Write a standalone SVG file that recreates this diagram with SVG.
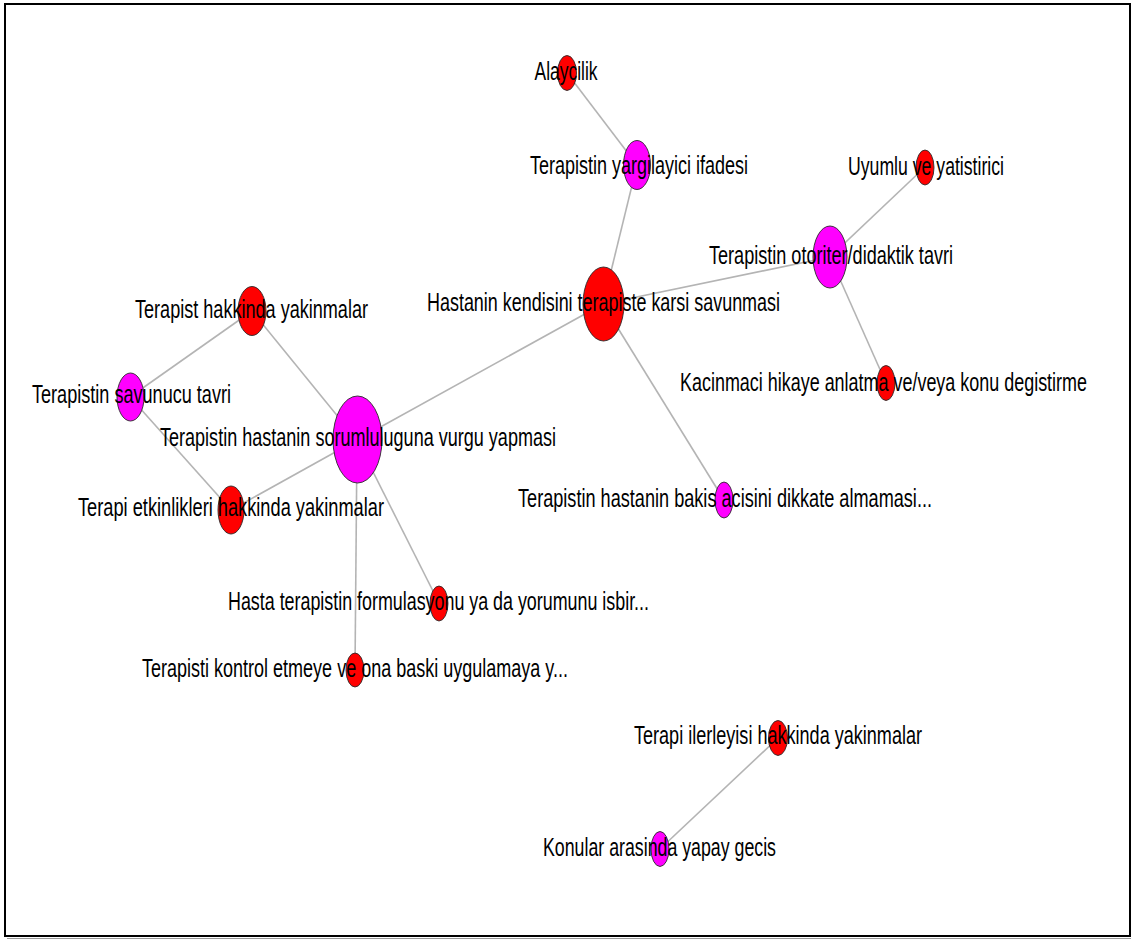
<svg xmlns="http://www.w3.org/2000/svg" width="1131" height="940" viewBox="0 0 1131 940">
  <style>
    .edge { stroke: #b4b4b4; stroke-width: 1.6; fill: none; }
    .red { fill: #ff0000; stroke: #2a2a2a; stroke-width: 0.9; }
    .mag { fill: #ff00ff; stroke: #2a2a2a; stroke-width: 0.9; }
    text { font-family: "Liberation Sans", Arial, sans-serif; font-size: 26px; fill: #000; text-anchor: middle; }
  </style>
  <rect x="0" y="0" width="1131" height="940" fill="#fff"/>
  <rect x="5" y="4" width="1125" height="932" fill="none" stroke="#000" stroke-width="2"/>
  <line x1="7" y1="938.5" x2="1131" y2="938.5" stroke="#999" stroke-width="1"/>

  <g id="connectors">
    <line class="edge" x1="567" y1="73" x2="637" y2="165"/>
    <line class="edge" x1="637" y1="165" x2="603" y2="304"/>
    <line class="edge" x1="603" y1="304" x2="830" y2="257"/>
    <line class="edge" x1="830" y1="257" x2="925" y2="167"/>
    <line class="edge" x1="830" y1="257" x2="886" y2="383"/>
    <line class="edge" x1="603" y1="304" x2="724" y2="500"/>
    <line class="edge" x1="603" y1="304" x2="357" y2="440"/>
    <line class="edge" x1="252" y1="311" x2="130" y2="397"/>
    <line class="edge" x1="252" y1="311" x2="357" y2="440"/>
    <line class="edge" x1="130" y1="397" x2="231" y2="510"/>
    <line class="edge" x1="231" y1="510" x2="357" y2="440"/>
    <line class="edge" x1="357" y1="440" x2="439" y2="603"/>
    <line class="edge" x1="357" y1="440" x2="355" y2="670"/>
    <line class="edge" x1="778" y1="738" x2="660" y2="849"/>
  </g>

  <g id="n-alaycilik">
    <ellipse class="red" cx="567" cy="73" rx="9.5" ry="17.5"/>
    <text x="566" y="80" textLength="63" lengthAdjust="spacingAndGlyphs">Alaycilik</text>
  </g>
  <g id="n-yargilayici">
    <ellipse class="mag" cx="637" cy="165" rx="13.5" ry="24.5"/>
    <text x="639" y="174" textLength="218" lengthAdjust="spacingAndGlyphs">Terapistin yargilayici ifadesi</text>
  </g>
  <g id="n-savunmasi">
    <ellipse class="red" cx="603.5" cy="304" rx="20.5" ry="37"/>
    <text x="603.5" y="311" textLength="353" lengthAdjust="spacingAndGlyphs">Hastanin kendisini terapiste karsi savunmasi</text>
  </g>
  <g id="n-otoriter">
    <ellipse class="mag" cx="830" cy="257" rx="17" ry="31"/>
    <text x="831" y="264" textLength="244" lengthAdjust="spacingAndGlyphs">Terapistin otoriter/didaktik tavri</text>
  </g>
  <g id="n-uyumlu">
    <ellipse class="red" cx="925" cy="167.5" rx="9" ry="17.5"/>
    <text x="926" y="175" textLength="156" lengthAdjust="spacingAndGlyphs">Uyumlu ve yatistirici</text>
  </g>
  <g id="n-kacinmaci">
    <ellipse class="red" cx="886" cy="383" rx="9" ry="17.5"/>
    <text x="883.5" y="391" textLength="407" lengthAdjust="spacingAndGlyphs">Kacinmaci hikaye anlatma ve/veya konu degistirme</text>
  </g>
  <g id="n-terapist-hakkinda">
    <ellipse class="red" cx="252" cy="311" rx="14" ry="24.5"/>
    <text x="251.5" y="318" textLength="233" lengthAdjust="spacingAndGlyphs">Terapist hakkinda yakinmalar</text>
  </g>
  <g id="n-savunucu">
    <ellipse class="mag" cx="130.5" cy="397" rx="13.5" ry="24"/>
    <text x="131.5" y="403" textLength="199" lengthAdjust="spacingAndGlyphs">Terapistin savunucu tavri</text>
  </g>
  <g id="n-sorumluluguna">
    <ellipse class="mag" cx="357.5" cy="439.5" rx="24.5" ry="43.5"/>
    <text x="358" y="446" textLength="396" lengthAdjust="spacingAndGlyphs">Terapistin hastanin sorumluluguna vurgu yapmasi</text>
  </g>
  <g id="n-etkinlikleri">
    <ellipse class="red" cx="231" cy="510" rx="13" ry="24"/>
    <text x="231" y="516" textLength="306" lengthAdjust="spacingAndGlyphs">Terapi etkinlikleri hakkinda yakinmalar</text>
  </g>
  <g id="n-bakis">
    <ellipse class="mag" cx="724" cy="500" rx="9" ry="18"/>
    <text x="725" y="507" textLength="414" lengthAdjust="spacingAndGlyphs">Terapistin hastanin bakis acisini dikkate almamasi...</text>
  </g>
  <g id="n-formulasyonu">
    <ellipse class="red" cx="439" cy="603.5" rx="9" ry="17.5"/>
    <text x="438.5" y="610" textLength="421" lengthAdjust="spacingAndGlyphs">Hasta terapistin formulasyonu ya da yorumunu isbir...</text>
  </g>
  <g id="n-kontrol">
    <ellipse class="red" cx="355" cy="670" rx="9" ry="17"/>
    <text x="355" y="677" textLength="426" lengthAdjust="spacingAndGlyphs">Terapisti kontrol etmeye ve ona baski uygulamaya y...</text>
  </g>
  <g id="n-ilerleyisi">
    <ellipse class="red" cx="778" cy="738" rx="9.5" ry="17.5"/>
    <text x="778" y="744" textLength="288" lengthAdjust="spacingAndGlyphs">Terapi ilerleyisi hakkinda yakinmalar</text>
  </g>
  <g id="n-konular">
    <ellipse class="mag" cx="660" cy="849" rx="9" ry="17.5"/>
    <text x="659.5" y="856" textLength="233" lengthAdjust="spacingAndGlyphs">Konular arasinda yapay gecis</text>
  </g>
</svg>
